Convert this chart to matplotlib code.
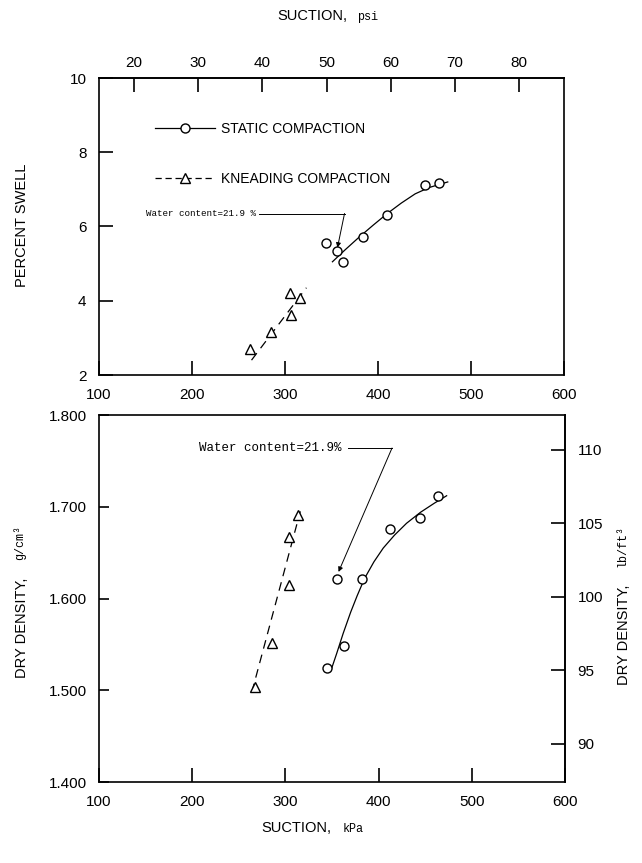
import matplotlib
matplotlib.use("Agg")
from matplotlib import pyplot as plt
from matplotlib.lines import Line2D
from matplotlib.ticker import FormatStrFormatter

plt.rcParams['font.family'] = ['Liberation Sans', 'DejaVu Sans']
MONO = ['Liberation Mono', 'DejaVu Sans Mono']

# ---- data ----
# top panel: percent swell vs suction (kPa)
swell_static_x = [344, 356, 362, 384, 410, 450, 466]
swell_static_y = [5.55, 5.34, 5.05, 5.73, 6.30, 7.13, 7.16]
swell_static_fit_x = [351, 365, 380, 395, 410, 425, 440, 455, 475]
swell_static_fit_y = [5.05, 5.38, 5.72, 6.04, 6.35, 6.63, 6.88, 7.05, 7.20]

swell_knead_x = [262, 285, 305, 306, 316]
swell_knead_y = [2.70, 3.17, 4.22, 3.61, 4.08]
swell_knead_fit_x = [264, 323]
swell_knead_fit_y = [2.40, 4.35]

# bottom panel: dry density (g/cm3) vs suction (kPa)
dens_static_x = [345, 355, 363, 382, 412, 444, 464]
dens_static_y = [1.524, 1.621, 1.548, 1.621, 1.676, 1.688, 1.712]
dens_static_fit_x = [349, 355, 362, 370, 377, 385, 395, 405, 417, 430, 445, 460, 473]
dens_static_fit_y = [1.522, 1.540, 1.562, 1.585, 1.603, 1.622, 1.640, 1.655, 1.669,
                     1.682, 1.694, 1.704, 1.712]

dens_knead_x = [267, 286, 304, 304, 314]
dens_knead_y = [1.503, 1.551, 1.615, 1.667, 1.691]
dens_knead_fit_x = [264, 316]
dens_knead_fit_y = [1.498, 1.695]

kpa_ticks = [100, 200, 300, 400, 500, 600]
psi_ticks = [20, 30, 40, 50, 60, 70, 80]
swell_ticks = [2, 4, 6, 8, 10]
dens_ticks = [1.4, 1.5, 1.6, 1.7, 1.8]
lbft_ticks = [90, 95, 100, 105, 110]

KPA_PER_PSI = 6.895
LBFT_PER_GCM = 62.428

W, H = 642, 863
fig = plt.figure(figsize=(W / 100, H / 100), dpi=100)


def fpos(x, y):
    """ pixel position -> figure fraction """
    return x / W, 1 - y / H


def ax_rect(x0, y0, x1, y1):
    return [x0 / W, 1 - y1 / H, (x1 - x0) / W, (y1 - y0) / H]


ax1 = fig.add_axes(ax_rect(99, 78, 564, 375))
ax2 = fig.add_axes(ax_rect(99, 415, 565, 782))

lw = 0.9
mk = dict(linestyle='none', markerfacecolor='white', markeredgecolor='k', markeredgewidth=1.0)

for ax in (ax1, ax2):
    for s in ax.spines.values():
        s.set_linewidth(1.2)
    ax.set_xlim(100, 600)
    ax.set_xticks(kpa_ticks)
    ax.tick_params(axis='x', direction='in', length=10, width=1.2, labelsize=11, pad=9)
    ax.tick_params(axis='y', direction='in', length=10, width=1.2, labelsize=11, pad=9)

# ---- top panel ----
ax1.set_ylim(2, 10)
ax1.set_yticks(swell_ticks)
ax1.plot(swell_static_fit_x, swell_static_fit_y, color='k', lw=lw)
ax1.plot(swell_static_x, swell_static_y, marker='o', markersize=6.5, **mk)
ax1.plot(swell_knead_fit_x, swell_knead_fit_y, color='k', lw=lw, dashes=(7, 5))
ax1.plot(swell_knead_x, swell_knead_y, marker='^', markersize=7.5, **mk)

top = ax1.secondary_xaxis('top', functions=(lambda v: v / KPA_PER_PSI, lambda v: v * KPA_PER_PSI))
top.set_xticks(psi_ticks)
top.tick_params(direction='in', length=10, width=1.2, labelsize=11, pad=6)
top.spines['top'].set_linewidth(1.2)

h_static = Line2D([], [], color='k', lw=lw, marker='o', markersize=6.5,
                  markerfacecolor='white', markeredgecolor='k')
h_knead = Line2D([], [], color='k', lw=lw, dashes=(5, 3), marker='^', markersize=7.5,
                 markerfacecolor='white', markeredgecolor='k')
ax1.legend([h_static, h_knead], ['STATIC COMPACTION', 'KNEADING COMPACTION'],
           loc='upper left', bbox_to_anchor=(0.12, 0.853), frameon=False, fontsize=10,
           numpoints=1, handlelength=4.3, handletextpad=0.5, labelspacing=2.6,
           borderpad=0, borderaxespad=0)

ax1.text(268.5, 6.35, 'Water content=21.9 %', family=MONO, fontsize=6.6, ha='right', va='center')
ax1.plot([272, 364], [6.35, 6.35], color='k', lw=0.7)
ax1.annotate('', xy=(356.4, 5.43), xytext=(364, 6.35),
             arrowprops=dict(arrowstyle='-|>', color='k', lw=0.7, mutation_scale=7, shrinkA=0, shrinkB=0))

# ---- bottom panel ----
ax2.set_ylim(1.4, 1.8)
ax2.set_yticks(dens_ticks)
ax2.yaxis.set_major_formatter(FormatStrFormatter('%.3f'))
ax2.tick_params(axis='y', length=7)
ax2.plot(dens_static_fit_x, dens_static_fit_y, color='k', lw=lw)
ax2.plot(dens_static_x, dens_static_y, marker='o', markersize=6.5, **mk)
ax2.plot(dens_knead_fit_x, dens_knead_fit_y, color='k', lw=lw, dashes=(7, 5))
ax2.plot(dens_knead_x, dens_knead_y, marker='^', markersize=7.5, **mk)

right = ax2.secondary_yaxis('right', functions=(lambda v: v * LBFT_PER_GCM, lambda v: v / LBFT_PER_GCM))
right.set_yticks(lbft_ticks)
right.tick_params(direction='in', length=10, width=1.2, labelsize=11, pad=9)
right.spines['right'].set_linewidth(1.2)

ax2.text(360.7, 1.764, 'Water content=21.9%', family=MONO, fontsize=9, ha='right', va='center')
ax2.plot([367, 414.4], [1.764, 1.764], color='k', lw=0.7)
ax2.annotate('', xy=(357.0, 1.629), xytext=(414.4, 1.764),
             arrowprops=dict(arrowstyle='-|>', color='k', lw=0.7, mutation_scale=7, shrinkA=0, shrinkB=0))

# ---- axis titles ----
fig.text(*fpos(347, 16), 'SUCTION,', fontsize=10.5, ha='right', va='center')
fig.text(*fpos(357, 17), 'psi', family=MONO, fontsize=8.5, ha='left', va='center')
fig.text(*fpos(331, 828), 'SUCTION,', fontsize=10.5, ha='right', va='center')
fig.text(*fpos(343, 829), 'kPa', family=MONO, fontsize=8.5, ha='left', va='center')

fig.text(*fpos(22, 225), 'PERCENT SWELL', fontsize=10.5, rotation=90, ha='center', va='center')

fig.text(*fpos(22, 678), 'DRY DENSITY,', fontsize=10.5, rotation=90, ha='center', va='bottom')
fig.text(*fpos(20, 560), 'g/cm³', family=MONO, fontsize=8.5, rotation=90, ha='center', va='bottom')
fig.text(*fpos(624, 685), 'DRY DENSITY,', fontsize=10.5, rotation=90, ha='center', va='bottom')
fig.text(*fpos(622, 567), 'lb/ft³', family=MONO, fontsize=8.5, rotation=90, ha='center', va='bottom')

fig.savefig('out.png', dpi=100)
